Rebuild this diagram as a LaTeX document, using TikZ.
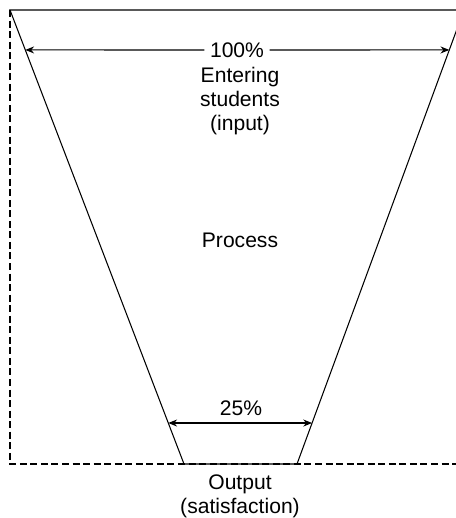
\documentclass[tikz,border=0pt]{standalone}
\usepackage{fontspec}
\setmainfont{Liberation Sans}
\usetikzlibrary{positioning,arrows.meta,calc}

\begin{document}
\begin{tikzpicture}[
  x=0.02cm, y=-0.02cm,
  edge/.style={line width=0.6pt, line join=miter},
  guide/.style={line width=0.6pt, dash pattern=on 4pt off 2pt},
  arr/.style={->, line width=0.6pt, >={Stealth[length=5pt, width=4pt]}},
  lbl/.style={font=\fontsize{12}{13.6}\selectfont, align=center, inner sep=3pt},
  node distance=0pt
]
  \useasboundingbox (0,0) rectangle (456,518);
  \clip (0,0) rectangle (456,518);

  % funnel
  \coordinate (tl) at (10,10);
  \coordinate (tr) at (464,10);
  \coordinate (br) at (297,464);
  \coordinate (bl) at (184,464);
  \coordinate (dl) at (10,464);
  \coordinate (dr) at (456,464);
  \draw[guide] (tl) -- (dl) -- (dr);
  \draw[edge] (tl) -- (tr) -- (br) -- (bl) -- cycle;

  \coordinate (in l) at ($(tl)!0.088!(bl)$);
  \coordinate (in r) at ($(tr)!0.088!(br)$);
  \coordinate (out l) at ($(tl)!0.9097!(bl)$);
  \coordinate (out r) at ($(tr)!0.9097!(br)$);

  % labels
  \node[lbl] (pct in) at (237,50) {100\%};
  \node[lbl] (input) at (240,101) {Entering\\students\\(input)};
  \node[lbl] (process) at (240,240) {Process};
  \node[lbl] (pct out) at (241,408) {25\%};
  \node[lbl, anchor=north] (output) at (240,469) {Output\\(satisfaction)};

  \draw[arr] (pct in) -- (in l);
  \draw[arr] (pct in) -- (in r);
  \draw[arr, <->] (out l) -- (out r);
\end{tikzpicture}
\end{document}
